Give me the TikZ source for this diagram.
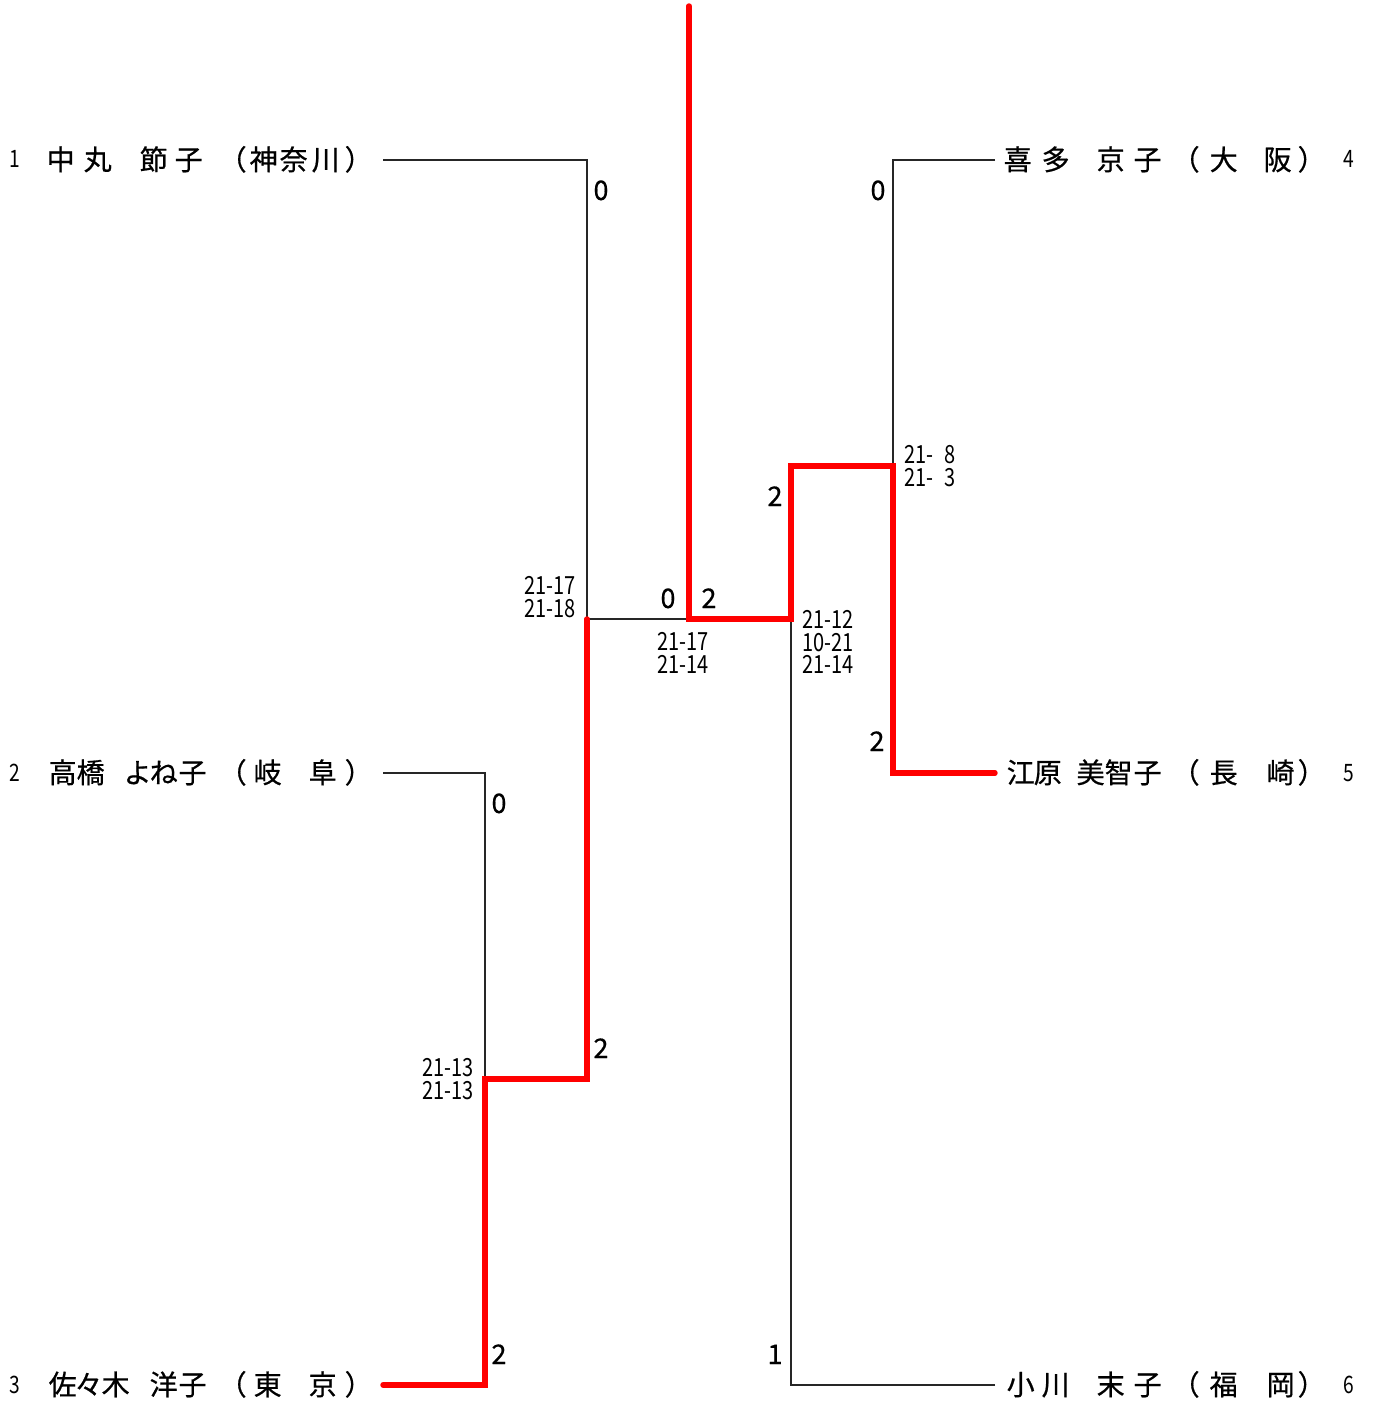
\documentclass[tikz,border=0pt]{standalone}
\usepackage{fontspec}
\setmainfont{Noto Sans CJK JP}
\newfontfamily\condfont[FakeStretch=0.8]{Noto Sans CJK JP}
\newfontfamily\namefont[FakeBold=0.6]{Noto Sans CJK JP}
\newcommand\nmchars[1]{\foreach \pp/\cc in {#1}{\rlap{\hspace*{\pp pt}\makebox[0pt]{\cc}}}}
\tikzset{
  pname/.style={font=\namefont\fontsize{28}{28}\selectfont, inner sep=0, anchor=base west},
  seed/.style={font=\condfont\fontsize{24}{24}\selectfont, inner sep=0, anchor=base},
  score/.style={font=\condfont\fontsize{25}{22.5}\selectfont, inner sep=0},
  wins/.style={font=\namefont\fontsize{27}{27}\selectfont, inner sep=0, anchor=base},
  lost/.style={draw=black!85, line width=1.2},
  won/.style={draw=red, line width=5.4, line cap=round, line join=miter}
}
\begin{document}
\begin{tikzpicture}[x=1pt,y=-1pt]
\useasboundingbox[fill=white] (0,0) rectangle (1377,1404);
% seeds
\node[seed] (s1) at (15,168) {1};
\node[seed] (s2) at (15,781) {2};
\node[seed] (s3) at (15,1393) {3};
\node[seed] (s4) at (1349,168) {4};
\node[seed] (s5) at (1349,781) {5};
\node[seed] (s6) at (1349,1393) {6};
% names
\node[pname] (p1) at (0,170) {\nmchars{60/中,97/丸,153/節,188/子,232/（,263/神,293/奈,325/川,358/）}};
\node[pname] (p2) at (0,783) {\nmchars{62/高,90/橋,137/よ,163/ね,192/子,232/（,267/岐,322/阜,358/）}};
\node[pname] (p3) at (0,1395) {\nmchars{62/佐,88/々,115/木,163/洋,192/子,232/（,267/東,322/京,358/）}};
\node[pname] (p4) at (0,170) {\nmchars{1017/喜,1055/多,1110/京,1147/子,1185/（,1223/大,1277/阪,1311/）}};
\node[pname] (p5) at (0,783) {\nmchars{1020/江,1047/原,1090/美,1118/智,1147/子,1185/（,1223/長,1280/崎,1311/）}};
\node[pname] (p6) at (0,1395) {\nmchars{1020/小,1055/川,1110/末,1147/子,1185/（,1223/福,1280/岡,1311/）}};
% junction coordinates
\coordinate (e1) at (383,160);
\coordinate (e2) at (383,773);
\coordinate (e3) at (383,1385);
\coordinate (e4) at (995,160);
\coordinate (e5) at (995,773);
\coordinate (e6) at (995,1385);
\coordinate (a1) at (587,160);
\coordinate (b2) at (485,773);
\coordinate (b3) at (485,1385);
\coordinate (c23) at (485,1079);
\coordinate (d23) at (587,1079);
\coordinate (f1) at (587,619);
\coordinate (g) at (689,619);
\coordinate (top) at (689,6);
\coordinate (h6) at (791,619);
\coordinate (j4) at (893,160);
\coordinate (k5) at (893,773);
\coordinate (i45) at (893,466);
\coordinate (m45) at (791,466);
\coordinate (n6) at (791,1385);
% losing paths
\draw[lost] (e1) -- (a1) -- (f1) -- (g);
\draw[lost] (e2) -- (b2) -- (c23);
\draw[lost] (e4) -- (j4) -- (i45);
\draw[lost] (e6) -- (n6) -- (h6);
% winning paths
\draw[won] (e3) -- (b3) -- (c23) -- (d23) -- (f1);
\draw[won] (e5) -- (k5) -- (i45) -- (m45) -- (h6) -- (g) -- (top);
% games won
\node[wins] (w1) at (601,200) {0};
\node[wins] (w4) at (878,200) {0};
\node[wins] (w2) at (499,813) {0};
\node[wins] (w3) at (499,1364) {2};
\node[wins] (w23) at (601,1058) {2};
\node[wins] (w5) at (877,751) {2};
\node[wins] (w45) at (775,506) {2};
\node[wins] (w6) at (775,1364) {1};
\node[wins] (wl) at (668,608) {0};
\node[wins] (wr) at (709,608) {2};
% game scores
\node[score, align=right, anchor=east] (g23) at (474,1079) {21-13\\21-13};
\node[score, align=right, anchor=east] (g123) at (576,597) {21-17\\21-18};
\node[score, align=left, anchor=west] (g45) at (904,466) {21-\hphantom{1}8\\21-\hphantom{1}3};
\node[score, align=left, anchor=west] (g456) at (802,642) {21-12\\10-21\\21-14};
\node[score, align=center] (gf) at (683,653) {21-17\\21-14};
\end{tikzpicture}
\end{document}
